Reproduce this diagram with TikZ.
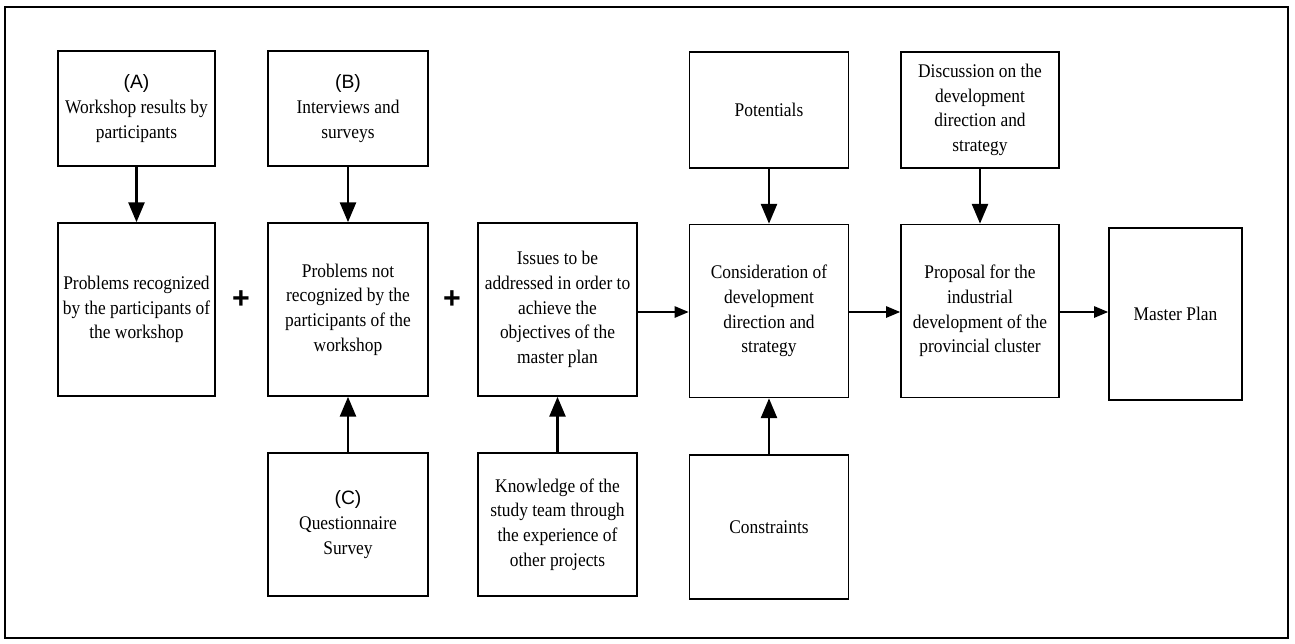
\documentclass[tikz,border=0pt]{standalone}
\usepackage{fontspec}
\setmainfont[FakeStretch=0.9]{Liberation Serif}
\setsansfont{Liberation Sans}
\usepackage{tikz}
\usetikzlibrary{arrows}

\begin{document}
\begin{tikzpicture}[x=0.02cm, y=-0.02cm,
    stepbox/.style={draw, line width=1.1pt, align=center, inner sep=2pt, font=\fontsize{11}{14}\selectfont},
    feed/.style={-triangle 45, line width=1.6pt},
    flow/.style={-triangle 45, line width=0.8pt}]
        \useasboundingbox (0,0) rectangle (1295,643);
        \draw[line width=1.2pt] (5,7) rectangle (1288,638);
        % top row
        \node (srcA) [stepbox, minimum width=3.14cm, minimum height=2.3cm] at (136.5,108.5) {\textsf{(A)}\\Workshop results by\\participants};
        \node (srcB) [stepbox, minimum width=3.2cm, minimum height=2.3cm] at (348,108.5) {\textsf{(B)}\\Interviews and\\surveys};
        \node (potent) [stepbox, minimum width=3.18cm, minimum height=2.32cm] at (769,110) {Potentials};
        \node (discuss) [stepbox, minimum width=3.16cm, minimum height=2.32cm] at (980,110) {Discussion on the\\development\\direction and\\strategy};
        % middle row
        \node (probA) [stepbox, minimum width=3.14cm, minimum height=3.46cm] at (136.5,309.5) {Problems recognized\\by the participants of\\the workshop};
        \node (probB) [stepbox, minimum width=3.2cm, minimum height=3.46cm] at (348,309.5) {Problems not\\recognized by the\\participants of the\\workshop};
        \node (issues) [stepbox, minimum width=3.18cm, minimum height=3.46cm] at (557.5,309.5) {Issues to be\\addressed in order to\\achieve the\\objectives of the\\master plan};
        \node (consid) [stepbox, minimum width=3.18cm, minimum height=3.46cm] at (769,311) {Consideration of\\development\\direction and\\strategy};
        \node (propos) [stepbox, minimum width=3.16cm, minimum height=3.46cm] at (980,311) {Proposal for the\\industrial\\development of the\\provincial cluster};
        \node (master) [stepbox, minimum width=2.66cm, minimum height=3.44cm] at (1175.5,314) {Master Plan};
        % bottom row
        \node (srcC) [stepbox, minimum width=3.2cm, minimum height=2.86cm] at (348,524.5) {\textsf{(C)}\\Questionnaire\\Survey};
        \node (know) [stepbox, minimum width=3.18cm, minimum height=2.86cm] at (557.5,524.5) {Knowledge of the\\study team through\\the experience of\\other projects};
        \node (constr) [stepbox, minimum width=3.18cm, minimum height=2.88cm] at (769,527) {Constraints};
        % plus signs
        \node (plusA) at (241,300) {\LARGE\sffamily\bfseries +};
        \node (plusB) at (452,300) {\LARGE\sffamily\bfseries +};
        % arrows
        \draw[feed] (srcA) -- (probA);
        \draw[feed] (srcB) -- (probB);
        \draw[feed] (srcC) -- (probB);
        \draw[feed] (know) -- (issues);
        \draw[feed] (potent) -- (consid);
        \draw[feed] (constr) -- (consid);
        \draw[feed] (discuss) -- (propos);
        \draw[flow] (issues.east |- 0,312) -- (consid.west |- 0,312);
        \draw[flow] (consid.east |- 0,312) -- (propos.west |- 0,312);
        \draw[flow] (propos.east |- 0,312) -- (master.west |- 0,312);
    \end{tikzpicture}
\end{document}
